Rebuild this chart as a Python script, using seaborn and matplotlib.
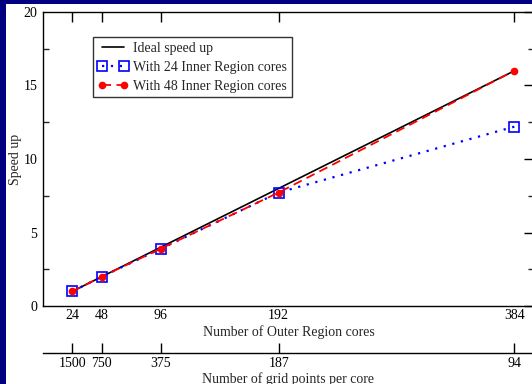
import matplotlib
matplotlib.use("Agg")
import matplotlib.pyplot as plt
import seaborn as sns
import pandas as pd
from matplotlib.patches import Rectangle
from matplotlib.ticker import MultipleLocator

# ---- data ----
outer_cores = [24, 48, 96, 192, 384]
grid_points = ["1500", "750", "375", "187", "94"]
ideal = [1, 2, 4, 8, 16]
inner24 = [1.0, 2.0, 3.9, 7.72, 12.2]
inner48 = [1.0, 2.0, 3.9, 7.72, 16.0]

sns.set_style("white")
plt.rcParams["font.family"] = ["Liberation Serif", "DejaVu Serif"]
plt.rcParams["mathtext.fontset"] = "stix"

W, H = 532, 384
fig = plt.figure(figsize=(W / 100, H / 100), dpi=100)
fig.patch.set_facecolor("#000080")
bg = Rectangle((6 / W, 0), 1, (H - 4) / H, transform=fig.transFigure,
               facecolor="white", edgecolor="none", zorder=-10)
fig.patches.append(bg)

left, right = 43 / W, 534 / W
bottom, top = (H - 306) / H, (H - 12) / H
ax = fig.add_axes([left, bottom, right - left, top - bottom])
ax.set_facecolor("white")

df = pd.DataFrame({"x": outer_cores, "ideal": ideal, "i24": inner24, "i48": inner48})

sns.lineplot(data=df, x="x", y="ideal", ax=ax, color="black", linewidth=1.2,
             label="Ideal speed up")
sns.lineplot(data=df, x="x", y="i24", ax=ax, color="#0000ff", linewidth=1.6,
             linestyle=(0, (1, 3)), marker="s", markersize=7.5,
             markerfacecolor="none", markeredgecolor="#0000ff", markeredgewidth=1.2,
             label="With 24 Inner Region cores")
sns.lineplot(data=df, x="x", y="i48", ax=ax, color="#ff0000", linewidth=1.3,
             linestyle=(0, (5, 3)), marker="o", markersize=5.5,
             markeredgecolor="#ff0000", markeredgewidth=0,
             label="With 48 Inner Region cores")

ax.set_xlim(0, 400)
ax.set_ylim(0, 20)
ax.set_xticks(outer_cores)
ax.set_xticklabels([str(v) for v in outer_cores])
ax.yaxis.set_major_locator(MultipleLocator(5))
ax.yaxis.set_minor_locator(MultipleLocator(2.5))
ax.tick_params(axis="both", which="major", direction="in", length=7, width=1,
               labelsize=10, top=True, right=True, pad=4, colors="black")
ax.tick_params(axis="x", which="major", pad=2.5)
ax.tick_params(axis="y", which="minor", direction="in", length=4, width=1,
               left=True, right=True)
ax.tick_params(axis="x", which="minor", bottom=False, top=False)
for s in ax.spines.values():
    s.set_color("black")
    s.set_linewidth(1.0)

ax.set_xlabel("Number of Outer Region cores", fontsize=10, labelpad=2)
ax.set_ylabel("Speed up", fontsize=10, labelpad=1)

leg = ax.legend(loc="upper left", bbox_to_anchor=(0.102, 0.915), borderaxespad=0,
                fontsize=10, frameon=True, fancybox=False, numpoints=2,
                handlelength=2.2, handletextpad=0.35, borderpad=0.35,
                labelspacing=0.42)
leg.get_frame().set_edgecolor("black")
leg.get_frame().set_linewidth(1.0)

# secondary axis line for grid points per core
y2 = (H - 352.5) / H
ax2 = fig.add_axes([left, y2, right - left, 0.0001])
ax2.patch.set_visible(False)
ax2.set_xlim(0, 400)
ax2.set_ylim(0, 1)
ax2.set_yticks([])
for k in ["top", "left", "right"]:
    ax2.spines[k].set_visible(False)
ax2.spines["bottom"].set_color("black")
ax2.spines["bottom"].set_linewidth(1.0)
ax2.set_xticks(outer_cores)
ax2.set_xticklabels(grid_points)
ax2.tick_params(axis="x", direction="in", length=7, width=1, labelsize=10, pad=3,
                bottom=True, colors="black")
ax2.set_xlabel("Number of grid points per core", fontsize=10, labelpad=1.5)

fig.savefig("out.png", dpi=100, facecolor=fig.get_facecolor())
